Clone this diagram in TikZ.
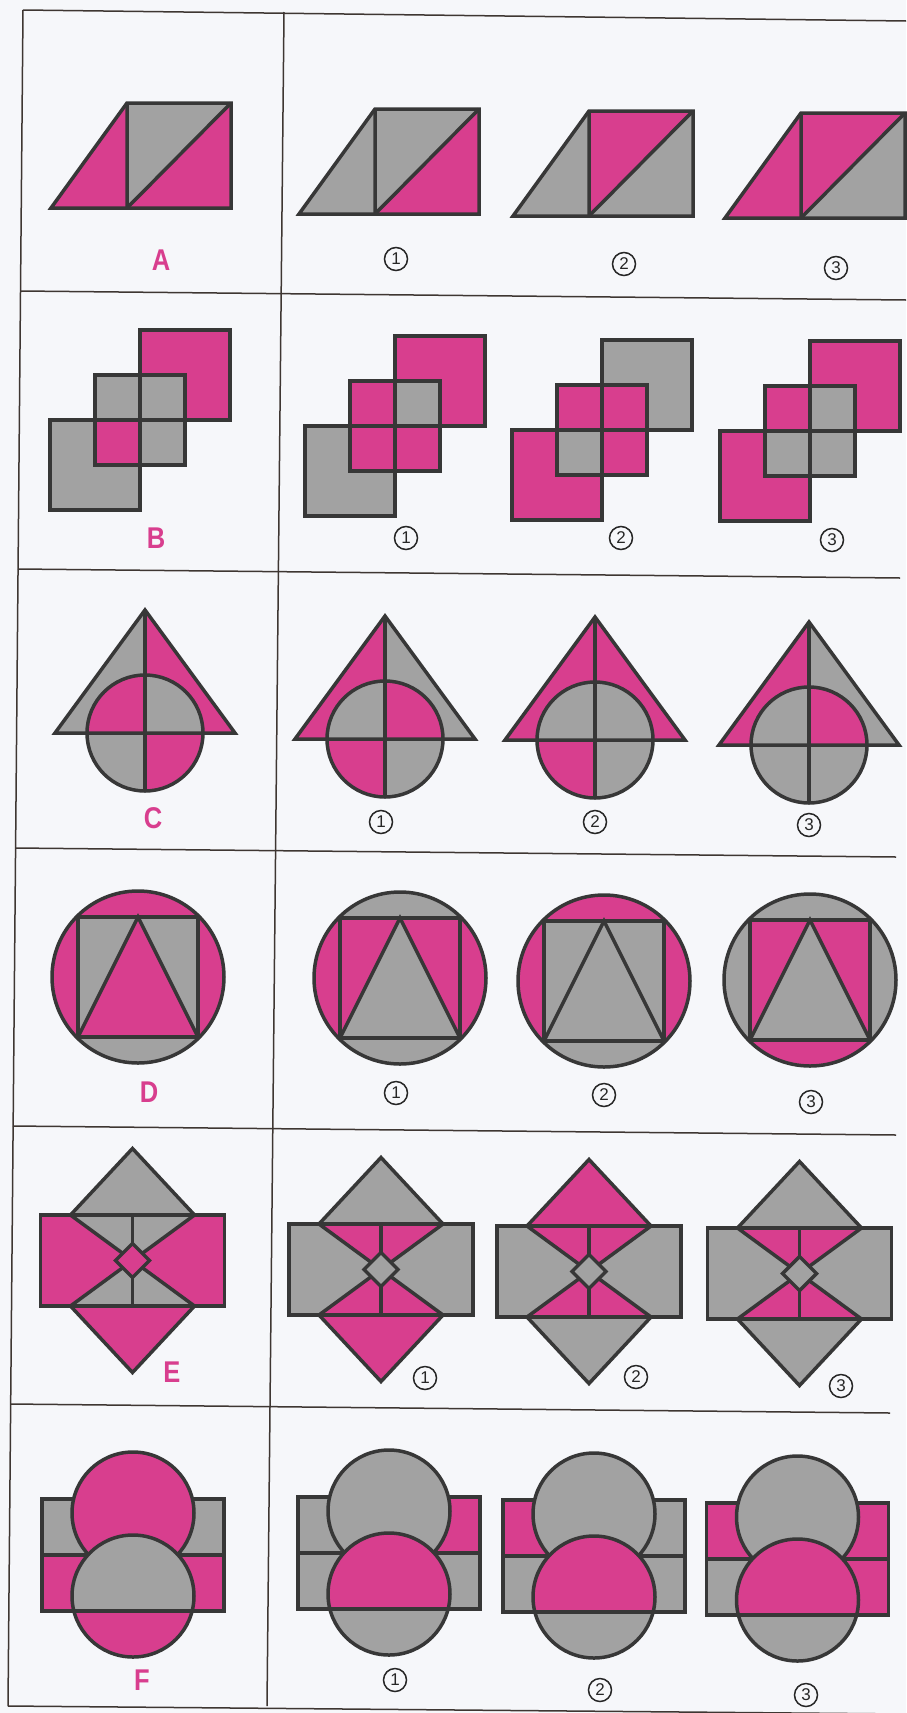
\documentclass[tikz,border=0pt]{standalone}
\usepackage{fontspec}
\newfontfamily\labelfont{Liberation Sans}
\definecolor{M}{RGB}{216,62,142}
\definecolor{G}{RGB}{162,162,162}
\definecolor{ol}{RGB}{55,55,55}
\definecolor{bgc}{RGB}{246,247,250}
\definecolor{gridc}{RGB}{62,54,50}

\tikzset{
  outl/.style={draw=ol, line width=3.5pt, line join=miter},
  gridline/.style={draw=gridc, line width=1.5pt},
  letterlbl/.style={text=M, font=\labelfont\bfseries\fontsize{30}{30}\selectfont, inner sep=0pt},
  numlbl/.style={circle, draw=black!85, line width=1.5pt, minimum size=23pt, inner sep=0pt, text=black!85, font=\labelfont\fontsize{17}{17}\selectfont},
}

% Row A: trapezoid  #1 pos(bottom-left)  #2 left  #3 upper  #4 lower-right
\newcommand{\figTrap}[4]{%
  \begin{scope}[shift={#1}]
    \fill[#2] (0,0) -- (76,-105) -- (76,0) -- cycle;
    \fill[#3] (76,0) -- (76,-105) -- (180,-105) -- cycle;
    \fill[#4] (76,0) -- (180,-105) -- (180,0) -- cycle;
    \draw[outl] (0,0) -- (76,-105) -- (180,-105) -- (180,0) -- cycle;
    \draw[outl] (76,0) -- (76,-105) (76,0) -- (180,-105);
  \end{scope}}

% Row B: squares  #1 centre  #2 S1  #3 S3  #4 TL #5 TR #6 BL #7 BR
\newcommand{\figSq}[7]{%
  \begin{scope}[shift={#1}]
    \fill[#2] (0,-90) rectangle (90,0);
    \fill[#3] (-90,0) rectangle (0,90);
    \draw[outl] (0,-90) rectangle (90,0);
    \draw[outl] (-90,0) rectangle (0,90);
    \fill[#4] (-45,-45) rectangle (0,0);
    \fill[#5] (0,-45) rectangle (45,0);
    \fill[#6] (-45,0) rectangle (0,45);
    \fill[#7] (0,0) rectangle (45,45);
    \draw[outl] (-45,-45) rectangle (45,45);
    \draw[outl] (0,-45) -- (0,45) (-45,0) -- (45,0);
  \end{scope}}

% Row C: triangle + circle  #1 centre  #2 triL  #3 triR  #4 TL #5 TR #6 BL #7 BR
\newcommand{\figTri}[7]{%
  \begin{scope}[shift={#1}]
    \fill[#2] (0,-123) -- (-90,0) -- (0,0) -- cycle;
    \fill[#3] (0,-123) -- (90,0) -- (0,0) -- cycle;
    \begin{scope}
      \clip (0,0) circle[radius=58];
      \fill[#4] (-60,-60) rectangle (0,0);
      \fill[#5] (0,-60) rectangle (60,0);
      \fill[#6] (-60,0) rectangle (0,60);
      \fill[#7] (0,0) rectangle (60,60);
    \end{scope}
    \draw[outl] (0,-123) -- (-90,0) -- (90,0) -- cycle;
    \draw[outl] (0,0) circle[radius=58];
    \draw[outl] (0,-123) -- (0,58);
  \end{scope}}

% Row D: circle + square + triangle  #1 centre #2 top #3 bottom #4 left #5 right #6 sqL #7 sqR #8 centre
\newcommand{\figCirc}[8]{%
  \begin{scope}[shift={#1}]
    \begin{scope}
      \clip (0,0) circle[radius=86];
      \fill[#2] (-90,-90) rectangle (90,-60);
      \fill[#3] (-90,60) rectangle (90,90);
      \fill[#4] (-90,-60) rectangle (-60,60);
      \fill[#5] (60,-60) rectangle (90,60);
    \end{scope}
    \fill[#6] (-60,-60) -- (0,-60) -- (-60,60) -- cycle;
    \fill[#7] (60,-60) -- (0,-60) -- (60,60) -- cycle;
    \fill[#8] (0,-60) -- (-60,60) -- (60,60) -- cycle;
    \draw[outl] (0,0) circle[radius=86];
    \draw[outl] (-60,-60) rectangle (60,60);
    \draw[outl] (-60,60) -- (0,-60) -- (60,60);
  \end{scope}}

% Row E: diamond + rectangle  #1 centre #2 top #3 bottom #4 sides #5 upper #6 lower #7 small
\newcommand{\figDia}[7]{%
  \begin{scope}[shift={#1}]
    \fill[#2] (0,-112) -- (-62,-45.5) -- (62,-45.5) -- cycle;
    \fill[#3] (0,112) -- (-62,45.5) -- (62,45.5) -- cycle;
    \fill[#4] (-92,-45.5) -- (-62,-45.5) -- (0,0) -- (-62,45.5) -- (-92,45.5) -- cycle;
    \fill[#4] (92,-45.5) -- (62,-45.5) -- (0,0) -- (62,45.5) -- (92,45.5) -- cycle;
    \fill[#5] (-62,-45.5) -- (62,-45.5) -- (0,0) -- cycle;
    \fill[#6] (-62,45.5) -- (62,45.5) -- (0,0) -- cycle;
    \draw[outl] (-62,-45.5) -- (0,-112) -- (62,-45.5);
    \draw[outl] (-62,45.5) -- (0,112) -- (62,45.5);
    \draw[outl] (-92,-45.5) rectangle (92,45.5);
    \draw[outl] (-62,-45.5) -- (62,45.5) (62,-45.5) -- (-62,45.5);
    \draw[outl] (0,-45.5) -- (0,45.5);
    \fill[#7] (0,-17) -- (17,0) -- (0,17) -- (-17,0) -- cycle;
    \draw[outl] (0,-17) -- (17,0) -- (0,17) -- (-17,0) -- cycle;
  \end{scope}}

% Row F: two circles + banded rectangle  #1 centre #2 TLband #3 TRband #4 BLband #5 BRband #6 topcircle #7 bot-upper #8 bot-lower
\newcommand{\figOval}[8]{%
  \begin{scope}[shift={#1}]
    \fill[#2] (-91,-56) rectangle (0,0);
    \fill[#3] (0,-56) rectangle (91,0);
    \fill[#4] (-91,0) rectangle (0,56);
    \fill[#5] (0,0) rectangle (91,56);
    \draw[outl] (-91,-56) rectangle (91,56);
    \draw[outl] (-91,0) -- (91,0);
    \fill[#6] (0,-42) circle[radius=61];
    \draw[outl] (0,-42) circle[radius=61];
    \begin{scope}
      \clip (0,41) circle[radius=61];
      \fill[#7] (-70,-30) rectangle (70,56);
      \fill[#8] (-70,56) rectangle (70,110);
    \end{scope}
    \draw[outl] (0,41) circle[radius=61];
    \draw[outl] (-91,56) -- (91,56);
  \end{scope}}

\begin{document}
\begin{tikzpicture}[x=1pt,y=-1pt]
\useasboundingbox (0,0) rectangle (906,1713);
\fill[bgc] (0,0) rectangle (906,1713);

% ---------- grid ----------
\coordinate (gTL) at (23,10);
\coordinate (gTR) at (906,21);
\coordinate (gBL) at (8,1706);
\coordinate (gBR) at (906,1714);
\coordinate (dT) at (284,12);
\coordinate (dB) at (267,1706);
\draw[gridline] (gTL) -- (gBL);
\draw[gridline] (dT) -- (dB);
\draw[gridline] (gTL) -- (gTR);
\draw[gridline] (20.5,291) -- (906,300);
\draw[gridline] (18,569) -- (900,578);
\draw[gridline] (15.5,848) -- (896,857);
\draw[gridline] (13,1126) -- (896,1135);
\draw[gridline] (10.6,1404) -- (890,1413);
\draw[gridline] (gBL) -- (gBR);

% ---------- row A ----------
\figTrap{(51,208)}{M}{G}{M}
\figTrap{(299,214)}{G}{G}{M}
\figTrap{(513,216)}{G}{M}{G}
\figTrap{(725,218)}{M}{M}{G}
\node[letterlbl] (lblA) at (161,260) {\scalebox{0.85}[1]{A}};
\node[numlbl] (nA1) at (396,259) {1};
\node[numlbl] (nA2) at (624,264) {2};
\node[numlbl] (nA3) at (836,268) {3};

% ---------- row B ----------
\figSq{(140,420)}{M}{G}{G}{G}{M}{G}
\figSq{(395,426)}{M}{G}{M}{G}{M}{M}
\figSq{(602,430)}{G}{M}{M}{M}{G}{M}
\figSq{(810,431)}{M}{M}{M}{G}{G}{G}
\node[letterlbl] (lblB) at (156,538) {\scalebox{0.85}[1]{B}};
\node[numlbl] (nB1) at (406,538) {1};
\node[numlbl] (nB2) at (621,538) {2};
\node[numlbl] (nB3) at (832,540) {3};

% ---------- row C ----------
\figTri{(145,733)}{G}{M}{M}{G}{G}{M}
\figTri{(385,739)}{M}{G}{G}{M}{M}{G}
\figTri{(595,740)}{M}{M}{G}{G}{M}{G}
\figTri{(809,745)}{M}{G}{G}{M}{G}{G}
\node[letterlbl] (lblC) at (153,818) {\scalebox{0.85}[1]{C}};
\node[numlbl] (nC1) at (381,822) {1};
\node[numlbl] (nC2) at (595,822) {2};
\node[numlbl] (nC3) at (809,825) {3};

% ---------- row D ----------
\figCirc{(138,977)}{M}{G}{M}{M}{G}{G}{M}
\figCirc{(400,978)}{G}{G}{M}{M}{M}{M}{G}
\figCirc{(604,981)}{M}{G}{M}{M}{G}{G}{G}
\figCirc{(810,980)}{G}{M}{G}{G}{M}{M}{G}
\node[letterlbl] (lblD) at (149,1092) {\scalebox{0.85}[1]{D}};
\node[numlbl] (nD1) at (396,1093) {1};
\node[numlbl] (nD2) at (604,1095) {2};
\node[numlbl] (nD3) at (811,1102) {3};

% ---------- row E ----------
\figDia{(132.5,1260.5)}{G}{M}{M}{G}{G}{M}
\figDia{(381,1269.5)}{G}{M}{G}{M}{M}{G}
\figDia{(589,1271.5)}{M}{G}{G}{M}{M}{G}
\figDia{(799.5,1273.5)}{G}{G}{G}{M}{M}{G}
\node[letterlbl] (lblE) at (172,1372) {\scalebox{0.85}[1]{E}};
\node[numlbl] (nE1) at (425,1378) {1};
\node[numlbl] (nE2) at (636,1377) {2};
\node[numlbl] (nE3) at (841,1386) {3};

% ---------- row F ----------
\figOval{(133,1555)}{G}{G}{M}{M}{M}{G}{M}
\figOval{(389,1553)}{G}{M}{G}{G}{G}{M}{G}
\figOval{(594,1556)}{M}{G}{G}{G}{G}{M}{G}
\figOval{(797.5,1559)}{M}{M}{G}{M}{G}{M}{G}
\node[letterlbl] (lblF) at (142,1680) {\scalebox{0.85}[1]{F}};
\node[numlbl] (nF1) at (395,1680) {1};
\node[numlbl] (nF2) at (600,1690) {2};
\node[numlbl] (nF3) at (806,1695) {3};
\end{tikzpicture}
\end{document}
